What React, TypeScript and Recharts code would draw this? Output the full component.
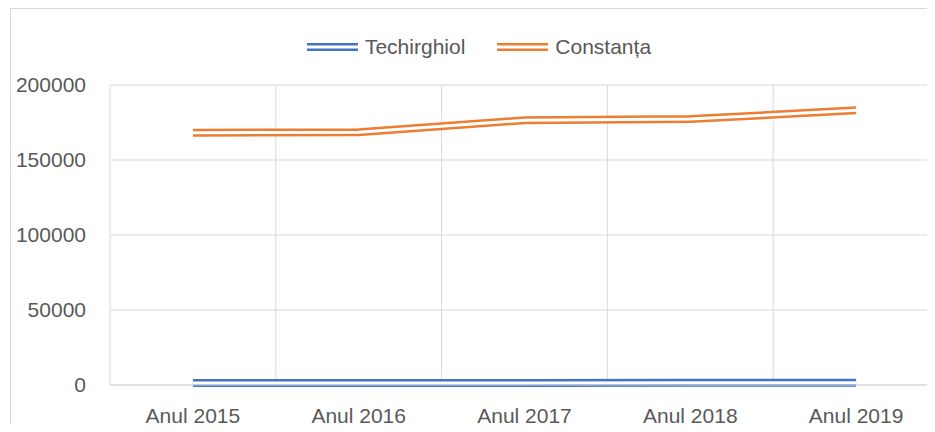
import React from 'react';
import { LineChart, Line, XAxis, YAxis, CartesianGrid, Legend } from 'recharts';

const years = ['Anul 2015', 'Anul 2016', 'Anul 2017', 'Anul 2018', 'Anul 2019'];
const techirghiol = [1350, 1380, 1400, 1420, 1450];
const constanta = [168200, 168500, 176500, 177300, 183100];
const yTicks = [0, 50000, 100000, 150000, 200000];

const seriesList = [
  { key: 'techirghiol', name: 'Techirghiol', color: '#4472C4' },
  { key: 'constanta', name: 'Constanța', color: '#ED7D31' },
];

const data = years.map((year, i) => ({
  year,
  techirghiol: techirghiol[i],
  constanta: constanta[i],
}));

const FONT = '"Liberation Sans", Arial, sans-serif';
const TEXT = '#595959';
const GRID = '#d9d9d9';

const CHART_W = 960;
const MARGIN = { top: 76, right: 32, bottom: 24, left: 0 };
const Y_AXIS_W = 99;
// half a category band on each side so points sit in the middle of their band
const HALF_BAND = (CHART_W - MARGIN.left - MARGIN.right - Y_AXIS_W) / years.length / 2;

// double-line swatch like the Excel compound line
const DoubleSwatch = ({ color }: { color: string }) => (
  <svg width={51} height={8} style={{ display: 'block' }}>
    <rect x={0} y={0} width={51} height={8} fill={color} />
    <rect x={0} y={2.5} width={51} height={3} fill="#fff" />
  </svg>
);

const renderLegend = () => (
  <div
    style={{
      display: 'flex',
      justifyContent: 'center',
      alignItems: 'center',
      height: 24,
      fontFamily: FONT,
      fontSize: 21,
      color: TEXT,
    }}
  >
    {seriesList.map((s, i) => (
      <div key={s.key} style={{ display: 'flex', alignItems: 'center', marginLeft: i === 0 ? 0 : 32 }}>
        <DoubleSwatch color={s.color} />
        <span style={{ marginLeft: 7, lineHeight: '24px' }}>{s.name}</span>
      </div>
    ))}
  </div>
);

// vertical gridlines on category boundaries, not on tick centres
const boundaryLines = ({ offset }: any) =>
  Array.from({ length: years.length + 1 }, (_, i) => offset.left + (offset.width * i) / years.length);

export default function App() {
  return (
    <div
      style={{
        marginLeft: 2,
        marginBottom: -8,
        width: 925,
        height: 424,
        overflow: 'hidden',
        boxSizing: 'border-box',
        borderTop: `1px solid ${GRID}`,
        borderLeft: `1px solid ${GRID}`,
        background: '#fff',
      }}
    >
      <LineChart width={CHART_W} height={440} data={data} margin={MARGIN}>
        <CartesianGrid stroke={GRID} strokeWidth={1} verticalCoordinatesGenerator={boundaryLines} />
        <XAxis
          dataKey="year"
          height={40}
          padding={{ left: HALF_BAND, right: HALF_BAND }}
          axisLine={{ stroke: GRID }}
          tickLine={false}
          tickSize={0}
          tickMargin={23}
          tick={{ fill: TEXT, fontSize: 21, fontFamily: FONT }}
        />
        <YAxis
          width={Y_AXIS_W}
          domain={[0, 200000]}
          ticks={yTicks}
          axisLine={false}
          tickLine={false}
          tickSize={0}
          tickMargin={24}
          tick={{ fill: TEXT, fontSize: 21, fontFamily: FONT }}
        />
        <Legend
          layout="horizontal"
          verticalAlign="middle"
          align="center"
          content={renderLegend}
          wrapperStyle={{ top: 26, left: 0, width: 936, bottom: 'auto', right: 'auto' }}
        />
        {seriesList.map((s) => (
          <Line
            key={s.key}
            type="linear"
            dataKey={s.key}
            name={s.name}
            stroke={s.color}
            strokeWidth={8}
            dot={false}
            activeDot={false}
            isAnimationActive={false}
          />
        ))}
        {seriesList.map((s) => (
          <Line
            key={`${s.key}-gap`}
            type="linear"
            dataKey={s.key}
            stroke="#fff"
            strokeWidth={3}
            dot={false}
            activeDot={false}
            legendType="none"
            isAnimationActive={false}
          />
        ))}
      </LineChart>
    </div>
  );
}
